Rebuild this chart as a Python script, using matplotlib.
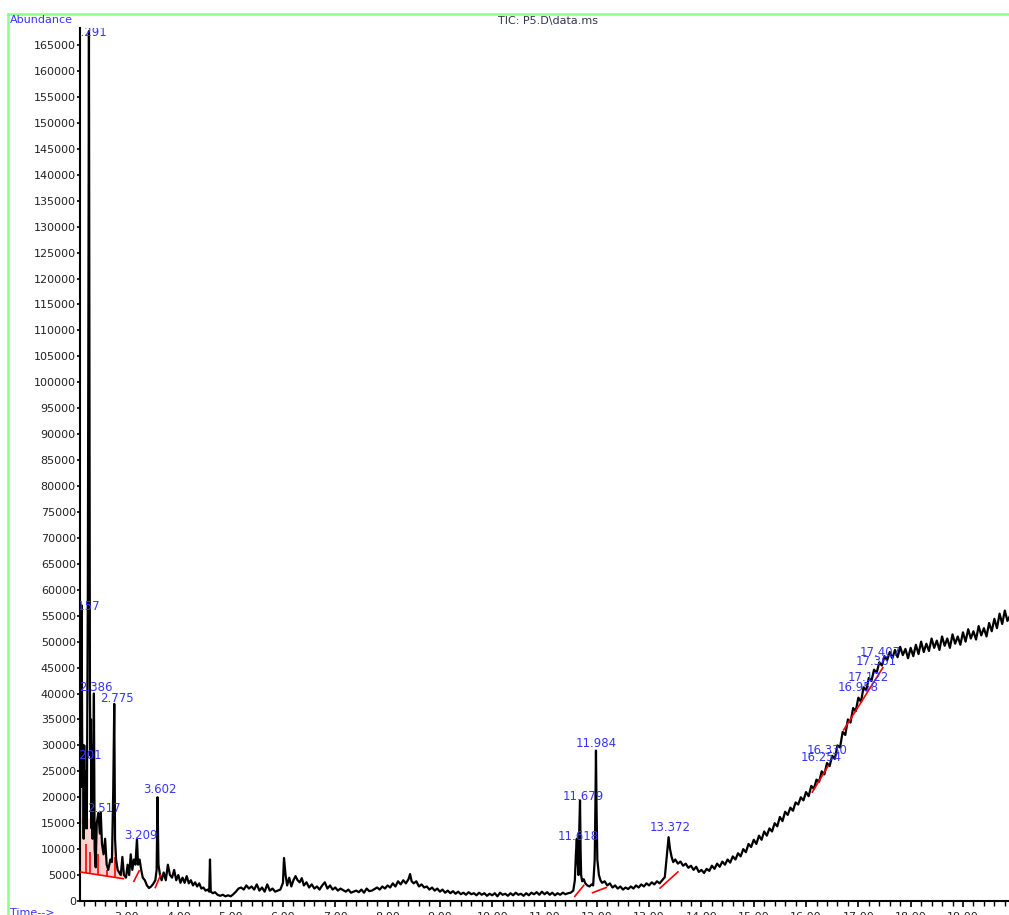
import numpy as np
import matplotlib.pyplot as plt
from matplotlib.lines import Line2D
from matplotlib.ticker import MultipleLocator, FormatStrFormatter

# TIC trace: (retention time [min], abundance [x1000])
trace_pts = [
    (2.12, 15), (2.13, 34), (2.14, 22), (2.15, 57), (2.165, 24), (2.18, 30), (2.19, 12),
    (2.201, 30), (2.215, 14), (2.23, 25), (2.25, 14), (2.27, 60), (2.28, 110), (2.291, 167.7),
    (2.30, 105), (2.31, 40), (2.32, 28), (2.33, 35), (2.34, 14), (2.35, 30), (2.36, 12),
    (2.386, 40), (2.40, 10), (2.42, 6.5), (2.44, 15), (2.47, 17), (2.50, 13), (2.517, 17),
    (2.54, 11), (2.57, 9), (2.60, 12), (2.63, 7), (2.66, 6), (2.70, 8), (2.73, 7.5),
    (2.755, 21), (2.775, 38), (2.79, 12), (2.81, 8), (2.84, 6), (2.87, 5.5), (2.90, 5),
    (2.93, 8.5), (2.96, 5), (3.00, 4.5), (3.03, 7), (3.06, 5), (3.09, 9), (3.12, 6),
    (3.15, 8), (3.18, 7), (3.209, 12), (3.23, 7), (3.26, 8), (3.29, 6), (3.32, 4.5),
    (3.36, 4), (3.40, 3), (3.44, 2.5), (3.48, 2.8), (3.52, 3.3), (3.56, 4), (3.585, 6),
    (3.602, 20), (3.62, 7), (3.65, 5), (3.68, 4), (3.72, 5.5), (3.76, 4), (3.80, 7),
    (3.84, 5), (3.88, 4.5), (3.92, 6), (3.96, 4), (4.00, 5), (4.04, 3.5), (4.08, 4.5),
    (4.12, 3.5), (4.16, 4.8), (4.20, 3.4), (4.24, 4), (4.28, 3), (4.32, 3.6), (4.36, 2.8),
    (4.40, 3.4), (4.44, 2.4), (4.48, 2.6), (4.52, 2), (4.56, 2.2), (4.59, 1.8), (4.605, 8),
    (4.62, 1.8), (4.66, 1.5), (4.70, 1.7), (4.75, 1.2), (4.80, 1.0), (4.85, 1.2), (4.90, 0.9),
    (4.95, 1.1), (5.00, 0.9), (5.05, 1.3), (5.10, 1.8), (5.15, 2.4), (5.20, 2.6), (5.25, 2.2),
    (5.30, 3), (5.35, 2.4), (5.40, 2.8), (5.45, 2.2), (5.50, 3.2), (5.55, 2.0), (5.60, 2.6),
    (5.65, 1.8), (5.70, 3.2), (5.75, 2.0), (5.80, 2.4), (5.85, 1.8), (5.90, 2.0), (5.95, 2.2),
    (6.00, 3.5), (6.02, 8.3), (6.05, 5), (6.08, 3), (6.12, 4.5), (6.16, 2.8), (6.20, 4),
    (6.24, 4.8), (6.28, 4), (6.32, 3.6), (6.36, 4.4), (6.40, 3), (6.45, 3.6), (6.50, 2.6),
    (6.55, 3.2), (6.60, 2.4), (6.65, 2.8), (6.70, 2.2), (6.75, 3), (6.80, 3.6), (6.85, 2.4),
    (6.90, 3), (6.95, 2.2), (7.00, 2.6), (7.05, 2.0), (7.10, 2.4), (7.20, 1.8), (7.25, 2.2),
    (7.30, 1.6), (7.40, 2.0), (7.45, 1.7), (7.50, 2.2), (7.55, 1.6), (7.60, 2.4), (7.65, 1.9),
    (7.70, 2.0), (7.80, 2.6), (7.85, 2.2), (7.90, 2.8), (7.95, 2.4), (8.00, 3), (8.05, 2.6),
    (8.10, 3.4), (8.15, 2.8), (8.20, 3.8), (8.25, 3.2), (8.30, 4), (8.35, 3.4), (8.40, 4.2),
    (8.43, 5.2), (8.46, 3.8), (8.50, 3.4), (8.55, 3.8), (8.60, 2.8), (8.65, 3.2), (8.70, 2.6),
    (8.75, 2.8), (8.80, 2.2), (8.85, 2.6), (8.90, 2.0), (8.95, 2.4), (9.00, 1.8), (9.05, 2.2),
    (9.10, 1.6), (9.15, 2.0), (9.20, 1.5), (9.25, 1.9), (9.30, 1.4), (9.35, 1.8), (9.40, 1.3),
    (9.45, 1.6), (9.50, 1.2), (9.55, 1.7), (9.60, 1.3), (9.65, 1.5), (9.70, 1.1), (9.75, 1.6),
    (9.80, 1.2), (9.85, 1.5), (9.90, 1.0), (9.95, 1.4), (10.00, 1.1), (10.05, 1.5), (10.10, 0.9),
    (10.15, 1.6), (10.20, 1.2), (10.25, 1.4), (10.30, 1.0), (10.35, 1.5), (10.40, 1.1),
    (10.45, 1.6), (10.50, 1.2), (10.55, 1.4), (10.60, 1.0), (10.65, 1.5), (10.70, 1.1),
    (10.75, 1.6), (10.80, 1.3), (10.85, 1.7), (10.90, 1.2), (10.95, 1.8), (11.00, 1.3),
    (11.05, 1.7), (11.10, 1.2), (11.15, 1.6), (11.20, 1.1), (11.25, 1.5), (11.30, 1.2),
    (11.35, 1.6), (11.40, 1.3), (11.45, 1.5), (11.50, 1.6), (11.55, 2.0), (11.58, 4),
    (11.60, 9), (11.618, 12), (11.63, 8), (11.65, 5), (11.665, 14), (11.679, 19.4), (11.69, 10),
    (11.70, 5), (11.72, 3.8), (11.75, 4.2), (11.78, 3.4), (11.82, 3), (11.86, 2.8), (11.90, 3.2),
    (11.93, 3), (11.96, 8), (11.975, 20), (11.984, 29), (11.995, 18), (12.01, 8), (12.04, 5),
    (12.07, 4), (12.10, 3.5), (12.15, 3.8), (12.20, 3), (12.25, 3.4), (12.30, 2.6), (12.35, 3),
    (12.40, 2.4), (12.45, 2.8), (12.50, 2.2), (12.55, 2.6), (12.60, 2.3), (12.65, 2.8),
    (12.70, 2.4), (12.75, 3), (12.80, 2.6), (12.85, 3.2), (12.90, 2.8), (12.95, 3.4), (13.00, 3),
    (13.05, 3.6), (13.10, 3.2), (13.15, 3.8), (13.20, 3.4), (13.25, 4), (13.30, 4.6), (13.34, 9),
    (13.372, 12.3), (13.40, 10), (13.43, 8.5), (13.46, 7.5), (13.50, 8), (13.55, 7.2),
    (13.60, 7.6), (13.65, 6.8), (13.70, 7.2), (13.75, 6.4), (13.80, 6.8), (13.85, 6), (13.90, 6.6),
    (13.95, 5.6), (14.00, 6), (14.05, 5.4), (14.10, 6.2), (14.15, 5.8), (14.20, 6.8), (14.25, 6.2),
    (14.30, 7.2), (14.35, 6.6), (14.40, 7.6), (14.45, 7), (14.50, 8), (14.55, 7.4), (14.60, 8.6),
    (14.65, 8), (14.70, 9.2), (14.75, 8.6), (14.80, 10), (14.85, 9.4), (14.90, 11), (14.95, 10.4),
    (15.00, 11.8), (15.05, 11), (15.10, 12.6), (15.15, 11.8), (15.20, 13.4), (15.25, 12.6),
    (15.30, 14), (15.35, 13.4), (15.40, 15), (15.45, 14.4), (15.50, 16.2), (15.55, 15.4),
    (15.60, 17.2), (15.65, 16.6), (15.70, 18), (15.75, 17.4), (15.80, 19), (15.85, 18.6),
    (15.90, 20), (15.95, 19.4), (16.00, 21), (16.05, 20.2), (16.10, 22.2), (16.15, 21.6),
    (16.20, 23.4), (16.25, 23), (16.30, 25), (16.35, 24.4), (16.40, 26.6), (16.45, 26),
    (16.50, 28), (16.55, 27.4), (16.60, 30), (16.65, 29.6), (16.70, 32.6), (16.75, 32),
    (16.80, 35), (16.85, 34.4), (16.90, 37.2), (16.95, 36.6), (17.00, 39.2), (17.05, 38.4),
    (17.10, 41.2), (17.15, 40.6), (17.20, 43), (17.25, 42.4), (17.30, 44.6), (17.35, 44),
    (17.40, 46), (17.45, 45.4), (17.50, 47.2), (17.55, 46.4), (17.60, 48), (17.65, 46.8),
    (17.70, 48.4), (17.75, 47), (17.80, 49), (17.85, 47.4), (17.90, 48.6), (17.95, 46.8),
    (18.00, 48.8), (18.05, 47.2), (18.10, 49.4), (18.15, 47.6), (18.20, 50), (18.25, 48),
    (18.30, 49.6), (18.35, 48.2), (18.40, 50.6), (18.45, 48.8), (18.50, 50.2), (18.55, 48.4),
    (18.60, 51), (18.65, 49.2), (18.70, 50.6), (18.75, 48.8), (18.80, 51.4), (18.85, 49.6),
    (18.90, 51), (18.95, 49.4), (19.00, 51.8), (19.05, 50), (19.10, 52.4), (19.15, 50.6),
    (19.20, 52), (19.25, 50.4), (19.30, 53), (19.35, 51.2), (19.40, 52.6), (19.45, 51),
    (19.50, 53.6), (19.55, 52), (19.60, 54.4), (19.65, 52.6), (19.70, 55.4), (19.75, 53.4),
    (19.80, 56), (19.85, 54), (19.90, 55),
]
rt = np.array([p[0] for p in trace_pts])
abund = np.array([p[1] for p in trace_pts]) * 1000

# integration baselines (red): start (rt, kabund) -> end (rt, kabund)
base_start_rt = [2.12, 3.15, 3.56, 11.58, 11.92, 13.21, 16.12, 16.72]
base_start_ab = [5.6, 3.8, 2.6, 0.9, 1.6, 2.5, 21.0, 33.0]
base_end_rt = [2.95, 3.25, 3.66, 11.75, 12.18, 13.55, 16.42, 17.47]
base_end_ab = [4.3, 5.8, 5.0, 3.0, 2.6, 5.6, 26.0, 45.0]

# drop lines in the early cluster (rt, top in kabund)
drop_rt = [2.12, 2.24, 2.32, 2.46, 2.64, 2.79]
drop_top = [15.0, 11.0, 9.5, 9.0, 6.0, 8.5]

# peak labels
peak_text = ["2.157", "2.201", "2.291", "2.386", "2.517", "2.775", "3.209", "3.602",
             "11.618", "11.679", "11.984", "13.372",
             "16.254", "16.330", "16.958", "17.122", "17.361", "17.407"]
peak_lbl_rt = [1.85, 1.89, 1.99, 2.11, 2.25, 2.50, 2.96, 3.33,
               11.26, 11.34, 11.60, 13.02,
               15.89, 16.02, 16.61, 16.79, 16.94, 17.03]
peak_lbl_ab = [56.7, 28.1, 167.4, 41.2, 17.9, 39.1, 12.7, 21.4,
               12.5, 20.2, 30.3, 14.1,
               27.6, 29.1, 41.2, 43.0, 46.1, 48.0]

W, H = 1009, 915
fig = plt.figure(figsize=(W / 100, H / 100), dpi=100)
ax = fig.add_axes([80 / W, 14 / H, 929 / W, 873 / H])

blue = '#3535ff'

# pink fill under the early cluster
bl = lambda t: np.interp(t, [base_start_rt[0], base_end_rt[0]], [base_start_ab[0] * 1000, base_end_ab[0] * 1000])
m = (rt >= base_start_rt[0]) & (rt <= base_end_rt[0])
ax.fill_between(rt[m], bl(rt[m]), np.minimum(abund[m], 16000), color='#ff9a9a', alpha=0.45, lw=0, zorder=1)

ax.plot(rt, abund, color='black', lw=1.6, zorder=3)

for t0, a0, t1, a1 in zip(base_start_rt, base_start_ab, base_end_rt, base_end_ab):
    ax.plot([t0, t1], [a0 * 1000, a1 * 1000], color='red', lw=1.2, zorder=4)
ax.vlines(drop_rt, bl(np.array(drop_rt)), np.array(drop_top) * 1000, color='red', lw=1.2, zorder=2)

for s, t, a in zip(peak_text, peak_lbl_rt, peak_lbl_ab):
    ax.text(t, a * 1000, s, color=blue, fontsize=8.5, ha='left', va='center', clip_on=True, zorder=5)

ax.set_xlim(2.12, 19.88)
ax.set_ylim(0, 168300)
for side in ['top', 'right']:
    ax.spines[side].set_visible(False)
for side in ['left', 'bottom']:
    ax.spines[side].set_linewidth(1.5)

ax.yaxis.set_major_locator(MultipleLocator(5000))
ax.yaxis.set_major_formatter(FormatStrFormatter('%d'))
ax.xaxis.set_major_locator(MultipleLocator(1))
ax.xaxis.set_minor_locator(MultipleLocator(0.2))
ax.xaxis.set_major_formatter(FormatStrFormatter('%.2f'))
ax.tick_params(axis='y', length=2.5, width=1.2, pad=0.5, labelsize=8, labelcolor='#222222')
ax.tick_params(axis='x', which='major', length=4.5, width=1.2, pad=3.5, labelsize=8, labelcolor='#222222')
ax.tick_params(axis='x', which='minor', length=3.5, width=1.0)

# green frame
green = '#8cff8c'
fig.add_artist(Line2D([8 / W, 1], [1 - 14 / H, 1 - 14 / H], color=green, lw=1.8, transform=fig.transFigure))
fig.add_artist(Line2D([8 / W, 8 / W], [0, 1 - 14 / H], color=green, lw=1.8, transform=fig.transFigure))

fig.text(10 / W, 1 - 20 / H, 'Abundance', color=blue, fontsize=8, va='center', ha='left')
fig.text(548 / W, 1 - 21 / H, r'TIC: P5.D\data.ms', color='#333355', fontsize=8, va='center', ha='center')
fig.text(10 / W, 7 / H, 'Time-->', color=blue, fontsize=8, va='top', ha='left')

fig.savefig('out.png', dpi=100)
